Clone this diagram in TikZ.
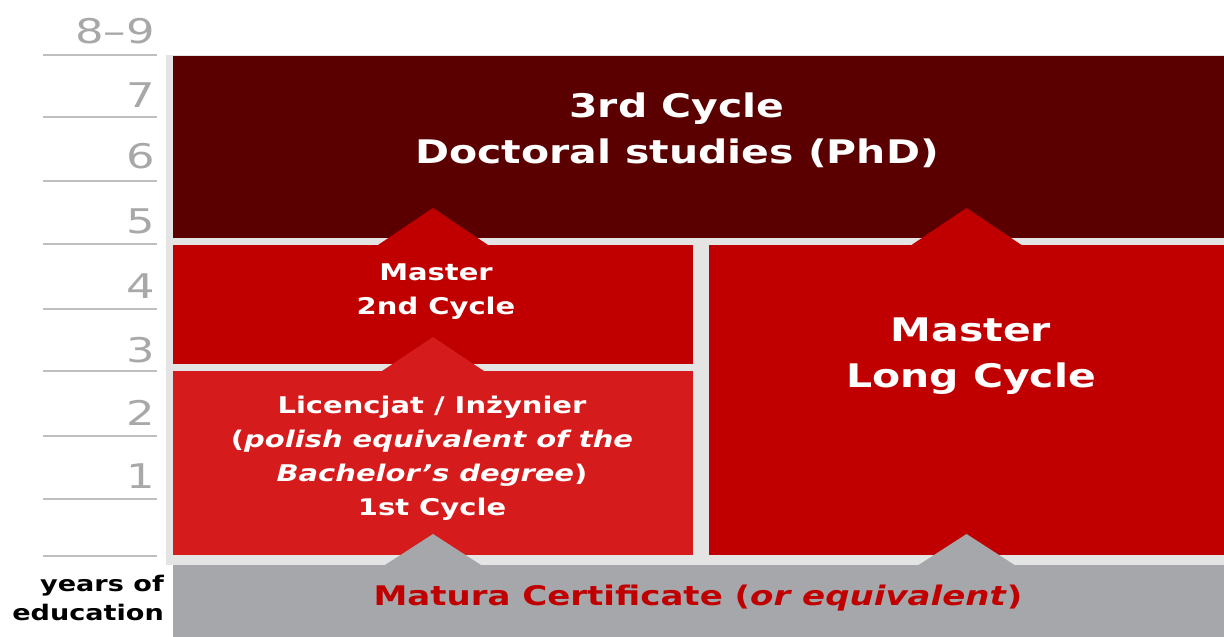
\documentclass[tikz,border=0pt]{standalone}
\usepackage{fontspec}
\setmainfont{DejaVu Sans}[FakeStretch=1.26]
\newfontfamily\digitfont{DejaVu Sans}[FakeStretch=1.32, Ligatures=TeX]
\definecolor{phdred}{HTML}{5A0000}
\definecolor{masterred}{HTML}{C00000}
\definecolor{bachred}{HTML}{D51B1B}
\definecolor{maturagray}{HTML}{A6A7AB}
\definecolor{gapgray}{HTML}{E4E4E4}
\definecolor{tickgray}{HTML}{BFBFBF}
\definecolor{labelgray}{HTML}{A8A8A8}

\begin{document}
\begin{tikzpicture}[x=1pt,y=-1pt,
    box/.style={rectangle, inner sep=0pt, outer sep=0pt, anchor=north west},
    bigtext/.style={text=white, align=center, font=\bfseries\fontsize{32.5}{46}\selectfont},
    smalltext/.style={text=white, align=center, font=\bfseries\fontsize{23}{34}\selectfont},
    yearlabel/.style={text=labelgray, anchor=base east, inner sep=0pt, font=\digitfont\fontsize{34}{40}\selectfont}]
    \useasboundingbox (0,0) rectangle (1224,637);
    % light gaps between the blocks
    \fill[gapgray] (166,55) rectangle (1224,565);
    % years axis
    \foreach \yy in {55,117,181,244,309,371,436,499,556}
        \draw[tickgray, line width=2pt] (43,\yy) -- (157,\yy);
    \foreach \lab/\yy in {8--9/43,7/107,6/168,5/233,4/298,3/362,2/425,1/488}
        \node[yearlabel] (year\yy) at (155,\yy) {\lab};
    \node[anchor=east, align=right, inner sep=0pt, font=\bfseries\fontsize{21.5}{29}\selectfont] (years) at (164,598) {years of\\education};
    % blocks
    \node[box, fill=phdred, minimum width=1051pt, minimum height=182pt] (phd) at (173,56) {};
    \node[box, fill=masterred, minimum width=520pt, minimum height=119pt] (master) at (173,245) {};
    \node[box, fill=bachred, minimum width=520pt, minimum height=184pt] (bach) at (173,371) {};
    \node[box, fill=masterred, minimum width=515pt, minimum height=310pt] (long) at (709,245) {};
    \node[box, fill=maturagray, minimum width=1051pt, minimum height=72pt] (matura) at (173,565) {};
    % chevrons
    \fill[masterred] (master.north) ++(-55,0) -- ++(55,-37) -- ++(55,37) -- cycle;
    \fill[masterred] (long.north) ++(-55,0) -- ++(55,-37) -- ++(55,37) -- cycle;
    \fill[bachred] (bach.north) ++(-51,0) -- ++(51,-34) -- ++(51,34) -- cycle;
    \fill[maturagray] (bach.south |- matura.north) ++(-48,0) -- ++(48,-31) -- ++(48,31) -- cycle;
    \fill[maturagray] (long.south |- matura.north) ++(-48,0) -- ++(48,-31) -- ++(48,31) -- cycle;
    % texts
    \node[bigtext] (phdtext) at (677,130) {3rd Cycle\\Doctoral studies (PhD)};
    \node[smalltext] (mastertext) at (436,292) {Master\\2nd Cycle};
    \node[smalltext] (bachtext) at (432,458) {Licencjat / Inżynier\\(\textit{polish equivalent of the}\\\textit{Bachelor's degree})\\1st Cycle};
    \node[bigtext] (longtext) at (971,356) {Master\\Long Cycle};
    \node[text=masterred, font=\bfseries\fontsize{27}{30}\selectfont] (maturatext) at (698,598) {Matura Certificate (\textit{or equivalent})};
\end{tikzpicture}
\end{document}
